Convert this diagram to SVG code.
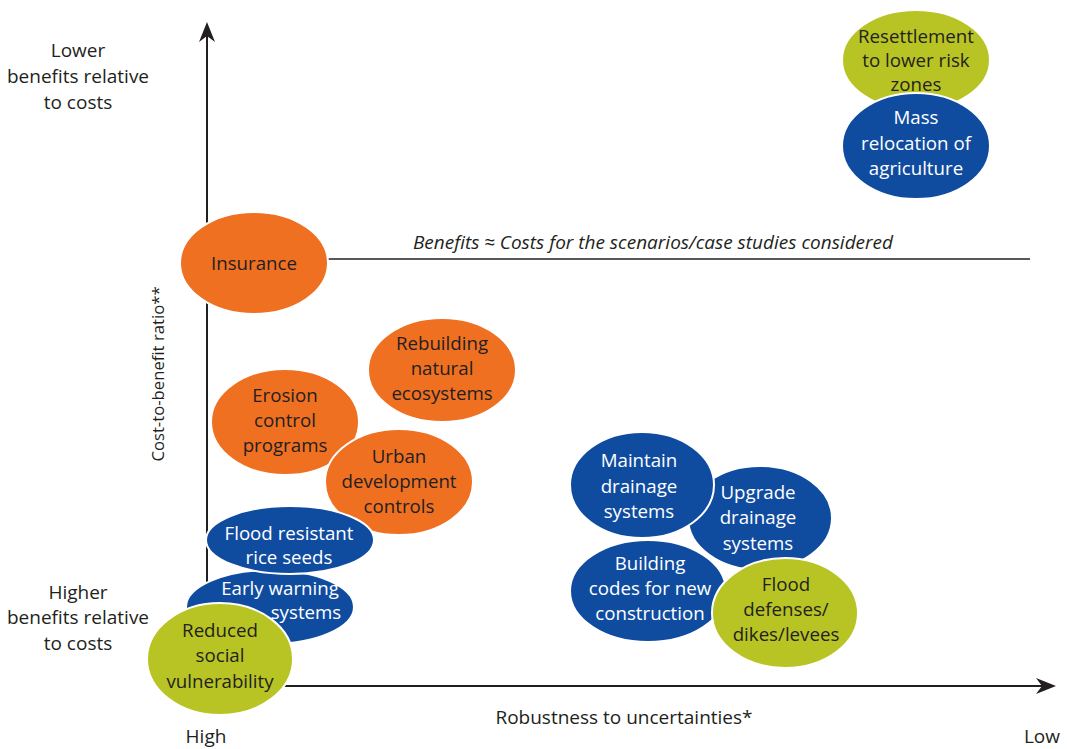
<svg xmlns="http://www.w3.org/2000/svg" width="1067" height="749" viewBox="0 0 1067 749">
<style>
.t{font-family:"Open Sans","Liberation Sans",sans-serif;font-size:18.7px;text-anchor:middle;fill:#231f20}
.l{font-size:19px}
.w{fill:#ffffff}
.o{fill:#f07022;stroke:#fff;stroke-width:2}
.b{fill:#0f4c9f;stroke:#fff;stroke-width:2}
.g{fill:#b8c424;stroke:#fff;stroke-width:2}
.ax{stroke:#231f20;stroke-width:2;fill:none}
</style>
<rect width="1067" height="749" fill="#fff"/>
<g id="axes">
<line class="ax" x1="207" y1="686" x2="207" y2="34"/>
<line class="ax" x1="207" y1="686" x2="1046" y2="686"/>
<path d="M207,22 L215,42 L207,36 L199,42 Z" fill="#231f20"/>
<path d="M1056,686 L1036,678 L1042,686 L1036,694 Z" fill="#231f20"/>
<line x1="327" y1="259" x2="1030" y2="259" stroke="#231f20" stroke-width="1.5"/>
</g>
<g id="labels">
<text class="t l" x="78" y="57">Lower</text>
<text class="t l" x="78" y="83">benefits relative</text>
<text class="t l" x="78" y="109">to costs</text>
<text class="t l" x="78" y="599">Higher</text>
<text class="t l" x="78" y="624">benefits relative</text>
<text class="t l" x="78" y="650">to costs</text>
<text class="t l" x="206" y="743">High</text>
<text class="t l" x="1042" y="743">Low</text>
<text class="t l" x="624" y="724">Robustness to uncertainties*</text>
<text class="t" style="font-size:16.7px" transform="translate(164,374) rotate(-90)">Cost-to-benefit ratio**</text>
<text class="t" x="653" y="249" style="font-style:italic;font-size:19px">Benefits ≈ Costs for the scenarios/case studies considered</text>
</g>
<g id="resettlement"><ellipse class="g" cx="916" cy="60" rx="74" ry="50"/>
<text class="t" x="916" y="43">Resettlement</text><text class="t" x="916" y="67">to lower risk</text><text class="t" x="916" y="91">zones</text></g>
<g id="mass"><ellipse class="b" cx="916" cy="146" rx="74" ry="53"/>
<text class="t w" x="916" y="124">Mass</text><text class="t w" x="916" y="150">relocation of</text><text class="t w" x="916" y="175">agriculture</text></g>
<g id="insurance"><ellipse class="o" cx="254" cy="263" rx="74" ry="51"/>
<text class="t" x="254" y="270">Insurance</text></g>
<g id="rebuilding"><ellipse class="o" cx="442" cy="370" rx="74" ry="52"/>
<text class="t" x="442" y="350">Rebuilding</text><text class="t" x="442" y="375">natural</text><text class="t" x="442" y="400">ecosystems</text></g>
<g id="erosion"><ellipse class="o" cx="285" cy="422" rx="74" ry="53"/>
<text class="t" x="285" y="402">Erosion</text><text class="t" x="285" y="427">control</text><text class="t" x="285" y="452">programs</text></g>
<g id="urban"><ellipse class="o" cx="399" cy="482" rx="74" ry="53"/>
<text class="t" x="399" y="463">Urban</text><text class="t" x="399" y="488">development</text><text class="t" x="399" y="513">controls</text></g>
<g id="early"><ellipse class="b" cx="270" cy="607" rx="84" ry="37"/>
<text class="t w" x="280" y="595">Early warning</text><text class="t w" x="306" y="619">systems</text></g>
<g id="floodrice"><ellipse class="b" cx="290" cy="540" rx="84" ry="34"/>
<text class="t w" x="289" y="540">Flood resistant</text><text class="t w" x="289" y="564">rice seeds</text></g>
<g id="reduced"><ellipse class="g" cx="220" cy="659" rx="73" ry="56"/>
<text class="t" x="220" y="637">Reduced</text><text class="t" x="220" y="662">social</text><text class="t" x="220" y="688">vulnerability</text></g>
<g id="upgrade"><ellipse class="b" cx="760" cy="518" rx="72" ry="52"/>
<text class="t w" x="758" y="499">Upgrade</text><text class="t w" x="758" y="524">drainage</text><text class="t w" x="758" y="550">systems</text></g>
<g id="maintain"><ellipse class="b" cx="642" cy="485" rx="72" ry="53"/>
<text class="t w" x="639" y="467">Maintain</text><text class="t w" x="639" y="493">drainage</text><text class="t w" x="639" y="518">systems</text></g>
<g id="building"><ellipse class="b" cx="648" cy="591" rx="78" ry="51"/>
<text class="t w" x="650" y="570">Building</text><text class="t w" x="650" y="595">codes for new</text><text class="t w" x="650" y="620">construction</text></g>
<g id="flooddef"><ellipse class="g" cx="785" cy="613" rx="73" ry="55"/>
<text class="t" x="786" y="591">Flood</text><text class="t" x="786" y="616">defenses/</text><text class="t" x="786" y="641">dikes/levees</text></g>
</svg>
